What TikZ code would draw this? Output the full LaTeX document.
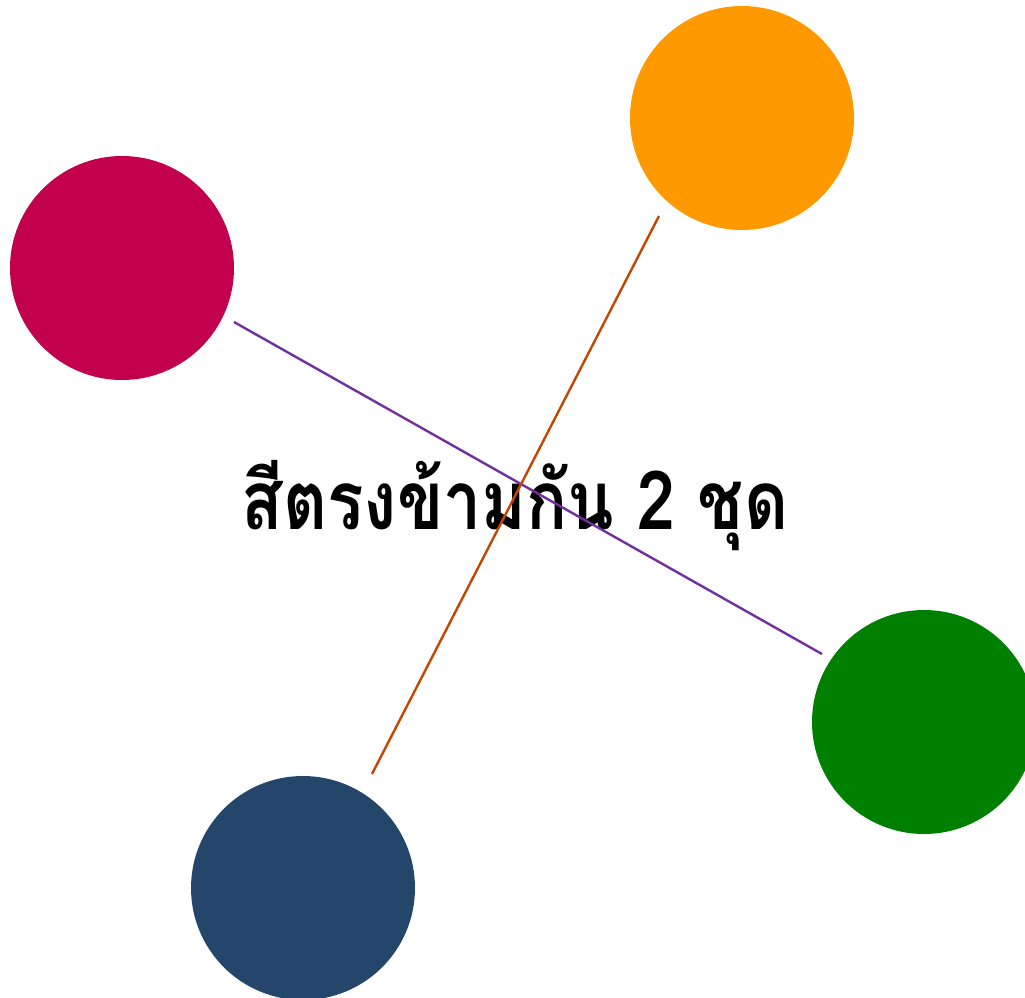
\documentclass[tikz,border=0pt]{standalone}
\usepackage{fontspec}
\newfontfamily\thaifont[Script=Thai]{Loma}
\definecolor{dotred}{RGB}{194,0,78}
\definecolor{dotorange}{RGB}{255,153,0}
\definecolor{dotgreen}{RGB}{0,128,0}
\definecolor{dotnavy}{RGB}{36,70,106}
\definecolor{linepurple}{RGB}{112,48,160}
\definecolor{linebrown}{RGB}{197,70,0}
\begin{document}
\begin{tikzpicture}[x=1pt,y=-1pt]

\tikzset{
	dot/.style={circle,inner sep=0pt,minimum size=224pt},
	pair/.style={line width=2.4pt},
}
        \useasboundingbox (0,0) rectangle (1025,997);
        %TITLE
        \node[font=\thaifont\bfseries\fontsize{68}{76}\selectfont,yscale=1.2,transform shape] (title) at (515,506) {สีตรงข้ามกัน 2 ชุด};
        %DOTS
        \node[dot,fill=dotred] (red) at (122,268) {};
        \node[dot,fill=dotorange] (orange) at (742,118) {};
        \node[dot,fill=dotgreen] (green) at (924,722) {};
        \node[dot,fill=dotnavy] (navy) at (303,888) {};
        %PAIRS
        \coordinate (red end) at (234,322);
        \coordinate (green end) at (822,654);
        \coordinate (orange end) at (659,216);
        \coordinate (navy end) at (372,774);
        \draw[pair,linepurple] (red end) -- (green end);
        \draw[pair,linebrown] (orange end) -- (navy end);
    \end{tikzpicture}
\end{document}
